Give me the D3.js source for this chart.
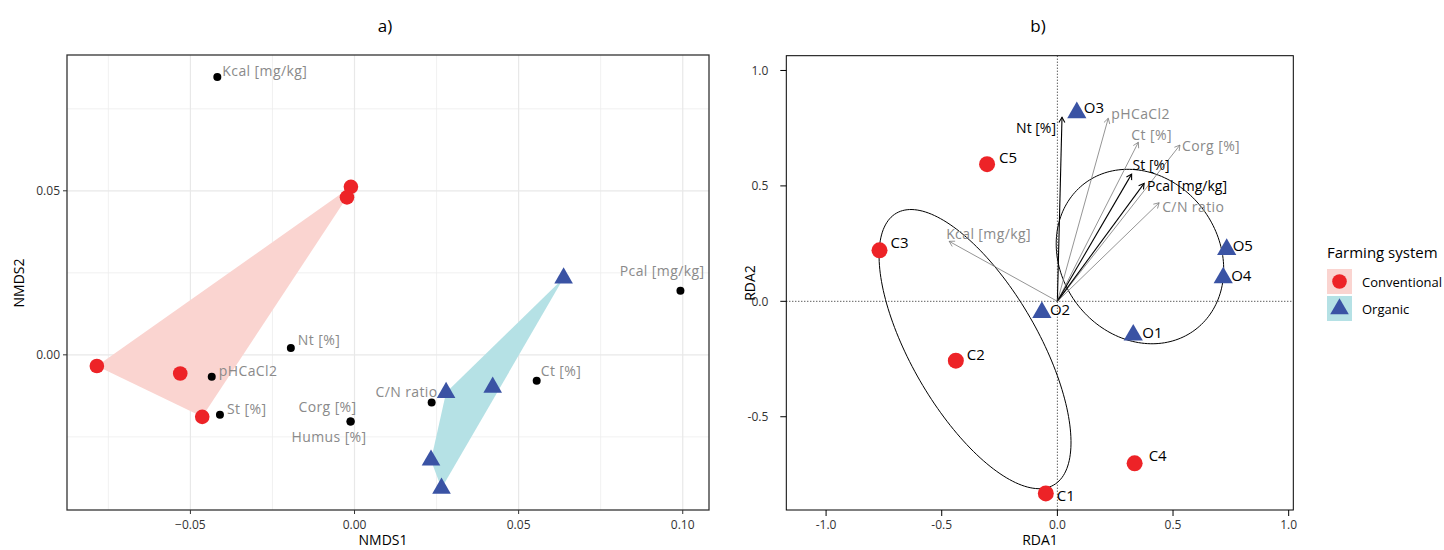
<!DOCTYPE html>
<html>
<head>
<meta charset="utf-8">
<script src="https://cdn.jsdelivr.net/npm/d3@7"></script>
<style>
  html, body { margin: 0; padding: 0; background: #fff; }
  svg { display: block; font-family: "Open Sans", "Noto Sans", sans-serif; }
</style>
</head>
<body>
<svg id="chart" width="1444" height="550"></svg>
<script>
// ---------------- DATA ----------------
const groups = ["Conventional", "Organic"];

// Panel a) NMDS site scores
const nmdsSiteGroup = ["Conventional","Conventional","Conventional","Conventional","Conventional",
                       "Organic","Organic","Organic","Organic","Organic"];
const nmdsSiteX = [-0.0011, -0.0023, -0.0785, -0.0531, -0.0464, 0.0637, 0.0279, 0.0421, 0.0233, 0.0265];
const nmdsSiteY = [0.0512, 0.0480, -0.0034, -0.0057, -0.0189, 0.0234, -0.0115, -0.0099, -0.0321, -0.0407];

// Panel a) environmental variables (fitted)
const envNames = ["Kcal [mg/kg]", "Pcal [mg/kg]", "Nt [%]", "pHCaCl2", "St [%]", "Corg [%]", "Humus  [%]", "C/N ratio", "Ct [%]"];
const envX = [-0.0418, 0.0993, -0.0194, -0.0435, -0.0410, -0.0012, -0.0012, 0.0235, 0.0555];
const envY = [0.0847, 0.0195, 0.0021, -0.0067, -0.0183, -0.0203, -0.0203, -0.0145, -0.0079];

const nmdsXTicks = [-0.05, 0.00, 0.05, 0.10];
const nmdsXTickLabels = ["\u22120.05", "0.00", "0.05", "0.10"];
const nmdsYTicks = [0.00, 0.05];
const nmdsYTickLabels = ["0.00", "0.05"];
const nmdsXMinor = [-0.075, -0.025, 0.025, 0.075];
const nmdsYMinor = [-0.025, 0.025, 0.075];

// Panel b) RDA site scores
const rdaSiteNames = ["C1","C2","C3","C4","C5","O1","O2","O3","O4","O5"];
const rdaSiteGroup = ["Conventional","Conventional","Conventional","Conventional","Conventional",
                      "Organic","Organic","Organic","Organic","Organic"];
const rdaSiteX = [-0.050, -0.439, -0.769, 0.334, -0.304, 0.328, -0.067, 0.084, 0.717, 0.732];
const rdaSiteY = [-0.832, -0.257, 0.221, -0.702, 0.594, -0.146, -0.048, 0.817, 0.102, 0.225];

// Panel b) RDA biplot arrows
const rdaVarNames = ["Nt [%]", "pHCaCl2", "Ct [%]", "Corg [%]", "St [%]", "Pcal [mg/kg]", "C/N ratio", "Kcal [mg/kg]"];
const rdaVarX = [0.020, 0.220, 0.350, 0.530, 0.321, 0.375, 0.440, -0.468];
const rdaVarY = [0.797, 0.793, 0.689, 0.677, 0.551, 0.511, 0.427, 0.260];
const rdaVarSignificant = [true, false, false, false, true, true, false, false];

// Panel b) group ellipses (centre, semi-axes, angle in degrees)
const ellipseCX = [-0.356, 0.357];
const ellipseCY = [-0.207, 0.194];
const ellipseA = [0.680, 0.397];
const ellipseB = [0.2746, 0.341];
const ellipseAngle = [120, 126.8];

const rdaXTicks = [-1.0, -0.5, 0.0, 0.5, 1.0];
const rdaXTickLabels = ["-1.0", "-0.5", "0.0", "0.5", "1.0"];
const rdaYTicks = [-0.5, 0.0, 0.5, 1.0];
const rdaYTickLabels = ["-0.5", "0.0", "0.5", "1.0"];

// ---------------- LAYOUT / STYLE ----------------
const pointColor = { Conventional: "#ED2327", Organic: "#3A53A4" };
const hullColor  = { Conventional: "#FAD4D0", Organic: "#B5E1E5" };
const labelGray = "#8a8a8a";

// label offsets (pixels) for panel a env labels
const envLabelLayout = [
  {dx: 5, dy: -6, anchor: "start"},
  {dx: 24, dy: -20, anchor: "end"},
  {dx: 7, dy: -8, anchor: "start"},
  {dx: 7, dy: -6, anchor: "start"},
  {dx: 7, dy: -6, anchor: "start"},
  {dx: 6, dy: -15, anchor: "end"},
  {dx: 16, dy: 15, anchor: "end"},
  {dx: 6, dy: -11, anchor: "end"},
  {dx: 4, dy: -10, anchor: "start"}
];
// label offsets for panel b site labels
const siteLabelLayout = [
  {dx: 11, dy: 2}, {dx: 11, dy: -7}, {dx: 11, dy: -8}, {dx: 14, dy: -8}, {dx: 12, dy: -7},
  {dx: 9, dy: -3}, {dx: 8, dy: -3}, {dx: 7, dy: -6}, {dx: 8, dy: -3}, {dx: 6, dy: -4}
];
// label offsets for panel b arrow labels
const varLabelLayout = [
  {dx: -6, dy: 10, anchor: "end"},
  {dx: 3, dy: -5, anchor: "start"},
  {dx: -7, dy: -8, anchor: "start"},
  {dx: 2, dy: 0, anchor: "start"},
  {dx: 1, dy: -10, anchor: "start"},
  {dx: 3, dy: 2, anchor: "start"},
  {dx: 3, dy: 4, anchor: "start"},
  {dx: -3, dy: -8, anchor: "start"}
];

const svg = d3.select("#chart");

// ================= PANEL A =================
const A = {left: 67, right: 709, top: 55, bottom: 510};
const xA = d3.scaleLinear().domain([-0.0876, 0.108]).range([A.left, A.right]);
const yA = d3.scaleLinear().domain([-0.0473, 0.0914]).range([A.bottom, A.top]);

const gA = svg.append("g");
gA.append("rect").attr("x", A.left).attr("y", A.top).attr("width", A.right - A.left).attr("height", A.bottom - A.top).attr("fill", "#fff");

// minor grid
gA.selectAll(".mgx").data(nmdsXMinor).join("line")
  .attr("x1", d => xA(d)).attr("x2", d => xA(d)).attr("y1", A.top).attr("y2", A.bottom)
  .attr("stroke", "#ededed").attr("stroke-width", 0.8);
gA.selectAll(".mgy").data(nmdsYMinor).join("line")
  .attr("y1", d => yA(d)).attr("y2", d => yA(d)).attr("x1", A.left).attr("x2", A.right)
  .attr("stroke", "#ededed").attr("stroke-width", 0.8);
// major grid
gA.selectAll(".Mgx").data(nmdsXTicks).join("line")
  .attr("x1", d => xA(d)).attr("x2", d => xA(d)).attr("y1", A.top).attr("y2", A.bottom)
  .attr("stroke", "#e8e8e8").attr("stroke-width", 1.2);
gA.selectAll(".Mgy").data(nmdsYTicks).join("line")
  .attr("y1", d => yA(d)).attr("y2", d => yA(d)).attr("x1", A.left).attr("x2", A.right)
  .attr("stroke", "#e8e8e8").attr("stroke-width", 1.2);

// hulls
groups.forEach(g => {
  const pts = nmdsSiteX.map((x, i) => ({x, y: nmdsSiteY[i], g: nmdsSiteGroup[i]}))
    .filter(d => d.g === g).map(d => [xA(d.x), yA(d.y)]);
  const hull = d3.polygonHull(pts);
  gA.append("path").attr("d", "M" + hull.join("L") + "Z")
    .attr("fill", hullColor[g]).attr("stroke", "none");
});

// env points
gA.selectAll(".env").data(envNames).join("circle")
  .attr("cx", (d, i) => xA(envX[i])).attr("cy", (d, i) => yA(envY[i]))
  .attr("r", 4).attr("fill", "#000");

// site points
nmdsSiteX.forEach((x, i) => {
  const g = nmdsSiteGroup[i];
  if (g === "Conventional") {
    gA.append("circle").attr("cx", xA(x)).attr("cy", yA(nmdsSiteY[i])).attr("r", 7.3).attr("fill", pointColor[g]);
  } else {
    gA.append("path").attr("d", d3.symbol(d3.symbolTriangle, 150)())
      .attr("transform", `translate(${xA(x)},${yA(nmdsSiteY[i])})`).attr("fill", pointColor[g]);
  }
});

// env labels
gA.selectAll(".envl").data(envNames).join("text")
  .attr("x", (d, i) => xA(envX[i]) + envLabelLayout[i].dx)
  .attr("y", (d, i) => yA(envY[i]) + envLabelLayout[i].dy)
  .attr("text-anchor", (d, i) => envLabelLayout[i].anchor)
  .attr("dominant-baseline", "central")
  .attr("font-size", 14).attr("fill", labelGray).attr("letter-spacing", 0.4)
  .text(d => d);

// border
gA.append("rect").attr("x", A.left).attr("y", A.top).attr("width", A.right - A.left).attr("height", A.bottom - A.top)
  .attr("fill", "none").attr("stroke", "#333").attr("stroke-width", 1.3);

// axes ticks
gA.selectAll(".xt").data(nmdsXTicks).join("line")
  .attr("x1", d => xA(d)).attr("x2", d => xA(d)).attr("y1", A.bottom).attr("y2", A.bottom + 4)
  .attr("stroke", "#333").attr("stroke-width", 1);
gA.selectAll(".xtl").data(nmdsXTicks).join("text")
  .attr("x", d => xA(d)).attr("y", A.bottom + 14).attr("text-anchor", "middle").attr("dominant-baseline", "central")
  .attr("font-size", 12).attr("fill", "#333").text((d, i) => nmdsXTickLabels[i]);
gA.selectAll(".yt").data(nmdsYTicks).join("line")
  .attr("y1", d => yA(d)).attr("y2", d => yA(d)).attr("x1", A.left - 4).attr("x2", A.left)
  .attr("stroke", "#333").attr("stroke-width", 1);
gA.selectAll(".ytl").data(nmdsYTicks).join("text")
  .attr("x", A.left - 7).attr("y", d => yA(d)).attr("text-anchor", "end").attr("dominant-baseline", "central")
  .attr("font-size", 12).attr("fill", "#333").text((d, i) => nmdsYTickLabels[i]);

gA.append("text").attr("x", 383).attr("y", 545).attr("text-anchor", "middle")
  .attr("font-size", 14).attr("fill", "#000").text("NMDS1");
gA.append("text").attr("transform", "translate(18,283) rotate(-90)").attr("text-anchor", "middle")
  .attr("dominant-baseline", "central").attr("font-size", 14).attr("fill", "#000").text("NMDS2");
gA.append("text").attr("x", 385).attr("y", 25).attr("text-anchor", "middle").attr("dominant-baseline", "central")
  .attr("font-size", 17).attr("fill", "#000").text("a)");

// ================= PANEL B =================
const B = {left: 786.3, right: 1293.3, top: 55.7, bottom: 510};
const xB = d3.scaleLinear().domain([-1.172, 1.02]).range([B.left, B.right]);
const yB = d3.scaleLinear().domain([-0.904, 1.064]).range([B.bottom, B.top]);
const gB = svg.append("g");

const clip = svg.append("defs").append("clipPath").attr("id", "clipB");
clip.append("rect").attr("x", B.left).attr("y", B.top).attr("width", B.right - B.left).attr("height", B.bottom - B.top);
const gBin = gB.append("g").attr("clip-path", "url(#clipB)");

// zero lines
gBin.append("line").attr("x1", xB(0)).attr("x2", xB(0)).attr("y1", B.top).attr("y2", B.bottom)
  .attr("stroke", "#000").attr("stroke-width", 0.9).attr("stroke-dasharray", "1,2");
gBin.append("line").attr("y1", yB(0)).attr("y2", yB(0)).attr("x1", B.left).attr("x2", B.right)
  .attr("stroke", "#000").attr("stroke-width", 0.9).attr("stroke-dasharray", "1,2");

// ellipses
ellipseCX.forEach((cx, k) => {
  const th = ellipseAngle[k] * Math.PI / 180;
  const pts = d3.range(0, 361, 2).map(deg => {
    const p = deg * Math.PI / 180;
    const ex = ellipseA[k] * Math.cos(p), ey = ellipseB[k] * Math.sin(p);
    return [xB(cx + ex * Math.cos(th) - ey * Math.sin(th)), yB(ellipseCY[k] + ex * Math.sin(th) + ey * Math.cos(th))];
  });
  gBin.append("path").attr("d", d3.line()(pts)).attr("fill", "none").attr("stroke", "#000").attr("stroke-width", 1);
});

// arrows
rdaVarNames.forEach((name, i) => {
  const col = rdaVarSignificant[i] ? "#000" : "#7a7a7a";
  const x0 = xB(0), y0 = yB(0), x1 = xB(rdaVarX[i]), y1 = yB(rdaVarY[i]);
  gBin.append("line").attr("x1", x0).attr("y1", y0).attr("x2", x1).attr("y2", y1)
    .attr("stroke", col).attr("stroke-width", rdaVarSignificant[i] ? 1.1 : 0.8);
  const ang = Math.atan2(y1 - y0, x1 - x0), L = 6, sp = Math.PI / 6;
  const h1 = [x1 - L * Math.cos(ang - sp), y1 - L * Math.sin(ang - sp)];
  const h2 = [x1 - L * Math.cos(ang + sp), y1 - L * Math.sin(ang + sp)];
  gBin.append("path").attr("d", `M${h1}L${x1},${y1}L${h2}`).attr("fill", "none")
    .attr("stroke", col).attr("stroke-width", rdaVarSignificant[i] ? 1.1 : 0.8);
});

// sites
rdaSiteNames.forEach((name, i) => {
  const g = rdaSiteGroup[i];
  const px = xB(rdaSiteX[i]), py = yB(rdaSiteY[i]);
  if (g === "Conventional") {
    gB.append("circle").attr("cx", px).attr("cy", py).attr("r", 8).attr("fill", pointColor[g]);
  } else {
    gB.append("path").attr("d", d3.symbol(d3.symbolTriangle, 160)())
      .attr("transform", `translate(${px},${py})`).attr("fill", pointColor[g]);
  }
});
// site labels
rdaSiteNames.forEach((name, i) => {
  gB.append("text").attr("x", xB(rdaSiteX[i]) + siteLabelLayout[i].dx).attr("y", yB(rdaSiteY[i]) + siteLabelLayout[i].dy)
    .attr("dominant-baseline", "central").attr("font-size", 15).attr("fill", "#000").text(name);
});
// arrow labels
rdaVarNames.forEach((name, i) => {
  gB.append("text").attr("x", xB(rdaVarX[i]) + varLabelLayout[i].dx).attr("y", yB(rdaVarY[i]) + varLabelLayout[i].dy)
    .attr("text-anchor", varLabelLayout[i].anchor).attr("dominant-baseline", "central")
    .attr("font-size", 14).attr("fill", rdaVarSignificant[i] ? "#000" : labelGray)
    .attr("letter-spacing", rdaVarSignificant[i] ? 0 : 0.4).text(name);
});

// border
gB.append("rect").attr("x", B.left).attr("y", B.top).attr("width", B.right - B.left).attr("height", B.bottom - B.top)
  .attr("fill", "none").attr("stroke", "#000").attr("stroke-width", 1);
// ticks
gB.selectAll(".xt").data(rdaXTicks).join("line")
  .attr("x1", d => xB(d)).attr("x2", d => xB(d)).attr("y1", B.bottom).attr("y2", B.bottom + 6)
  .attr("stroke", "#000").attr("stroke-width", 1);
gB.selectAll(".xtl").data(rdaXTicks).join("text")
  .attr("x", d => xB(d)).attr("y", B.bottom + 14).attr("text-anchor", "middle").attr("dominant-baseline", "central")
  .attr("font-size", 12).attr("fill", "#333").text((d, i) => rdaXTickLabels[i]);
gB.selectAll(".yt").data(rdaYTicks).join("line")
  .attr("y1", d => yB(d)).attr("y2", d => yB(d)).attr("x1", B.left - 6).attr("x2", B.left)
  .attr("stroke", "#000").attr("stroke-width", 1);
gB.selectAll(".ytl").data(rdaYTicks).join("text")
  .attr("x", B.left - 18).attr("y", d => yB(d)).attr("text-anchor", "end").attr("dominant-baseline", "central")
  .attr("font-size", 12).attr("fill", "#333").text((d, i) => rdaYTickLabels[i]);

gB.append("text").attr("x", 1040).attr("y", 545).attr("text-anchor", "middle")
  .attr("font-size", 14).attr("fill", "#000").text("RDA1");
gB.append("text").attr("transform", "translate(749,283) rotate(-90)").attr("text-anchor", "middle")
  .attr("dominant-baseline", "central").attr("font-size", 14).attr("fill", "#000").text("RDA2");
gB.append("text").attr("x", 1038).attr("y", 25).attr("text-anchor", "middle").attr("dominant-baseline", "central")
  .attr("font-size", 17).attr("fill", "#000").text("b)");

// ================= LEGEND =================
const gL = svg.append("g");
gL.append("text").attr("x", 1327).attr("y", 252).attr("dominant-baseline", "central")
  .attr("font-size", 15).attr("fill", "#000").text("Farming system");
groups.forEach((g, k) => {
  const y0 = 269 + k * 27;
  gL.append("rect").attr("x", 1327).attr("y", y0).attr("width", 25).attr("height", 25).attr("fill", hullColor[g]);
  if (g === "Conventional") {
    gL.append("circle").attr("cx", 1339.5).attr("cy", y0 + 12.5).attr("r", 7.3).attr("fill", pointColor[g]);
  } else {
    gL.append("path").attr("d", d3.symbol(d3.symbolTriangle, 150)())
      .attr("transform", `translate(1339.5,${y0 + 13})`).attr("fill", pointColor[g]);
  }
  gL.append("text").attr("x", 1362).attr("y", y0 + 12.5).attr("dominant-baseline", "central")
    .attr("font-size", 13).attr("fill", "#000").text(g);
});
</script>
</body>
</html>
